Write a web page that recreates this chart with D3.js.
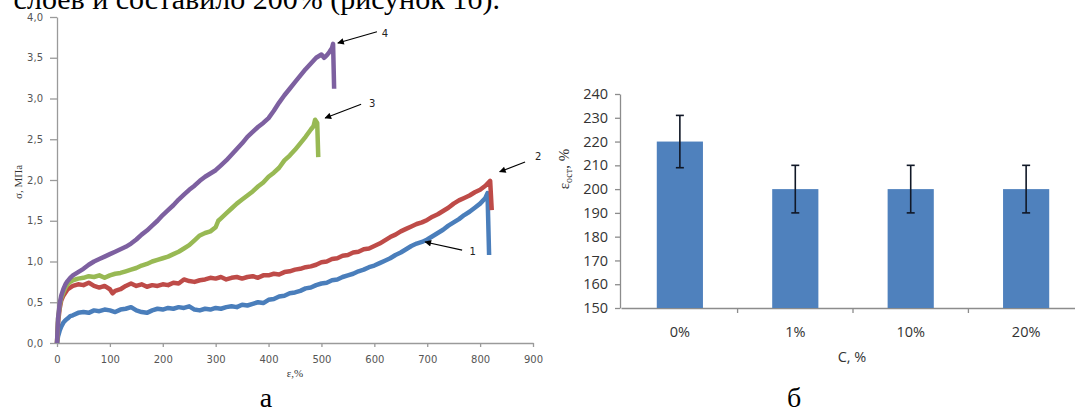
<!DOCTYPE html>
<html><head><meta charset="utf-8">
<script src="https://cdn.jsdelivr.net/npm/d3@7"></script>
<style>
html,body{margin:0;padding:0;background:#fff;}
svg{display:block;}
</style></head>
<body>
<svg id="c" width="1075" height="412"></svg>
<script>
// ---------- DATA: left chart (stress-strain curves) ----------
const strainTicks = [0,100,200,300,400,500,600,700,800,900];
const stressTicks = [0,0.5,1,1.5,2,2.5,3,3.5,4];

const strain1 = [0,2,5,8,12,16,20,25,30,40,50,60,70,80,90,100,110,120,130,140,150,160,170,180,190,200,210,220,230,240,250,260,270,280,290,300,310,320,330,340,350,360,370,380,390,400,410,420,430,440,450,460,470,480,490,500,510,520,530,540,550,560,570,580,590,600,610,620,630,640,650,660,670,680,690,700,710,720,730,740,750,760,770,780,790,800,810,814,817];
const stress1 = [0,0.08,0.15,0.2,0.25,0.28,0.3,0.33,0.34,0.37,0.38,0.37,0.40,0.39,0.41,0.40,0.38,0.41,0.42,0.44,0.40,0.38,0.37,0.40,0.42,0.41,0.43,0.42,0.44,0.43,0.45,0.41,0.40,0.42,0.41,0.43,0.42,0.44,0.45,0.44,0.47,0.46,0.48,0.50,0.49,0.53,0.54,0.57,0.58,0.61,0.62,0.64,0.67,0.68,0.71,0.73,0.74,0.77,0.78,0.81,0.83,0.85,0.88,0.90,0.93,0.95,0.98,1.01,1.04,1.08,1.11,1.15,1.19,1.22,1.24,1.27,1.31,1.35,1.39,1.44,1.48,1.52,1.57,1.61,1.66,1.71,1.78,1.84,1.08];

const strain2 = [0,2,5,8,12,16,20,25,30,40,50,60,70,80,90,100,105,110,120,130,140,150,160,170,180,190,200,210,220,230,240,250,260,270,280,290,300,310,320,330,340,350,360,370,380,390,400,410,420,430,440,450,460,470,480,490,500,510,520,530,540,550,560,570,580,590,600,610,620,630,640,650,660,670,680,690,700,710,720,730,740,750,760,770,780,790,800,810,819,822];
const stress2 = [0,0.25,0.42,0.52,0.58,0.62,0.66,0.68,0.70,0.72,0.71,0.74,0.70,0.68,0.70,0.66,0.61,0.64,0.66,0.70,0.73,0.70,0.72,0.69,0.71,0.70,0.72,0.71,0.74,0.73,0.78,0.76,0.75,0.77,0.78,0.80,0.79,0.81,0.78,0.80,0.81,0.79,0.81,0.82,0.80,0.83,0.83,0.85,0.84,0.87,0.88,0.90,0.91,0.93,0.94,0.96,0.99,1.00,1.03,1.04,1.07,1.08,1.11,1.12,1.15,1.16,1.19,1.22,1.26,1.30,1.33,1.37,1.40,1.43,1.46,1.48,1.51,1.55,1.58,1.62,1.66,1.71,1.75,1.78,1.81,1.85,1.88,1.93,1.99,1.63];

const strain3 = [0,2,5,8,12,16,20,25,30,40,50,60,70,80,90,100,110,120,130,140,150,160,170,180,190,200,210,220,230,240,250,260,270,280,290,300,305,310,320,330,340,350,360,370,380,390,400,410,420,430,440,450,460,470,480,485,488,492,494];
const stress3 = [0,0.3,0.45,0.55,0.62,0.68,0.72,0.75,0.77,0.79,0.80,0.82,0.81,0.83,0.80,0.83,0.85,0.86,0.88,0.90,0.92,0.95,0.97,1.00,1.02,1.04,1.06,1.09,1.12,1.16,1.20,1.26,1.32,1.35,1.37,1.42,1.50,1.53,1.59,1.65,1.71,1.76,1.81,1.86,1.92,1.97,2.04,2.09,2.15,2.24,2.30,2.37,2.45,2.53,2.62,2.66,2.74,2.70,2.28];

const strain4 = [0,2,5,8,12,16,20,25,30,40,50,60,70,80,90,100,110,120,130,140,150,160,170,180,190,200,210,220,230,240,250,260,270,280,290,300,310,320,330,340,350,360,370,380,390,400,410,420,430,440,450,460,470,480,490,500,505,510,515,520,522,524];
const stress4 = [0,0.3,0.48,0.58,0.66,0.72,0.76,0.80,0.83,0.87,0.91,0.96,1.00,1.03,1.06,1.09,1.12,1.15,1.18,1.22,1.27,1.33,1.38,1.44,1.50,1.57,1.63,1.69,1.76,1.82,1.88,1.93,1.99,2.04,2.08,2.12,2.18,2.24,2.31,2.38,2.45,2.53,2.59,2.65,2.70,2.76,2.85,2.95,3.04,3.12,3.20,3.28,3.36,3.43,3.50,3.54,3.50,3.53,3.57,3.62,3.67,3.12];

const curveLabels = ["1","2","3","4"];
// annotation arrows in data units: [labelStrain, labelStress, fromStrain, fromStress, toStrain, toStress]
const arrow1 = [780, 1.12, 766, 1.14, 696, 1.24];
const arrow2 = [904, 2.29, 885, 2.22, 837, 2.10];
const arrow3 = [590, 2.94, 575, 2.93, 507, 2.76];
const arrow4 = [614, 3.80, 605, 3.82, 531, 3.68];

// ---------- DATA: right chart (bars) ----------
const concCategories = ["0%","1%","10%","20%"];
const residualStrain = [220,200,200,200];
const residualError  = [11,10,10,10];
const residualTicks  = [150,160,170,180,190,200,210,220,230,240];

// ---------- DRAW ----------
const svg = d3.select("#c");

// cropped document text line at top
svg.append("text")
  .attr("x", 500).attr("y", 9)
  .attr("text-anchor","end")
  .attr("font-family","Liberation Serif, Times New Roman, serif")
  .attr("font-size", 30)
  .attr("fill","#000")
  .text("слоев и составило 200% (рисунок 1б).");

// ----- left chart -----
const x = d3.scaleLinear().domain([0,900]).range([57,533]);
const y = d3.scaleLinear().domain([0,4]).range([343,17]);
const L = svg.append("g");

const yAx = L.append("g").attr("transform","translate(57,0)")
  .call(d3.axisLeft(y).tickValues(stressTicks).tickSize(7).tickSizeOuter(0).tickPadding(7)
    .tickFormat(d => d.toFixed(1).replace(".",",")));
const xAx = L.append("g").attr("transform","translate(0,343)")
  .call(d3.axisBottom(x).tickValues(strainTicks).tickSize(4).tickSizeOuter(0).tickPadding(9));
[yAx,xAx].forEach(a=>{
  a.selectAll("path,line").attr("stroke","#9a9a9a").attr("stroke-width",1.3);
  a.selectAll("text").attr("font-family","DejaVu Sans, Verdana, sans-serif").attr("font-size",10).attr("fill","#555");
});

const series = [
  {sx:strain1, sy:stress1, color:"#4a7ebb"},
  {sx:strain2, sy:stress2, color:"#be4b48"},
  {sx:strain3, sy:stress3, color:"#98b954"},
  {sx:strain4, sy:stress4, color:"#7d60a0"}
];
const line = d3.line().x(d=>x(d[0])).y(d=>y(d[1]));
series.forEach(s=>{
  L.append("path")
    .datum(s.sx.map((v,i)=>[v,s.sy[i]]))
    .attr("d", line)
    .attr("fill","none")
    .attr("stroke", s.color)
    .attr("stroke-width", 4.5)
    .attr("stroke-linejoin","round");
});

svg.append("defs").append("marker")
  .attr("id","ah").attr("viewBox","0 0 10 10").attr("refX",9).attr("refY",5)
  .attr("markerWidth",7).attr("markerHeight",6).attr("orient","auto")
  .append("path").attr("d","M0,0L10,5L0,10z").attr("fill","#000");

[arrow1,arrow2,arrow3,arrow4].forEach((a,i)=>{
  L.append("line")
    .attr("x1",x(a[2])).attr("y1",y(a[3]))
    .attr("x2",x(a[4])).attr("y2",y(a[5]))
    .attr("stroke","#000").attr("stroke-width",1.1)
    .attr("marker-end","url(#ah)");
  L.append("text")
    .attr("x",x(a[0])).attr("y",y(a[1]))
    .attr("dy","0.35em")
    .attr("font-family","DejaVu Sans, Verdana, sans-serif").attr("font-size",10)
    .attr("fill","#222")
    .text(curveLabels[i]);
});

// axis titles left
L.append("text")
  .attr("transform","translate(22,182) rotate(-90)")
  .attr("text-anchor","middle")
  .attr("font-family","Liberation Serif, Times New Roman, serif")
  .attr("font-size",11).attr("fill","#333")
  .text("σ, МПа");
L.append("text")
  .attr("x",295).attr("y",377)
  .attr("text-anchor","middle")
  .attr("font-family","Liberation Serif, Times New Roman, serif")
  .attr("font-size",11).attr("fill","#333")
  .text("ε,%");

// panel letters
svg.append("text").attr("x",266).attr("y",407).attr("text-anchor","middle")
  .attr("font-family","Liberation Serif, Times New Roman, serif").attr("font-size",28).text("а");
svg.append("text").attr("x",794).attr("y",407).attr("text-anchor","middle")
  .attr("font-family","Liberation Serif, Times New Roman, serif").attr("font-size",28).text("б");

// ----- right chart -----
const R = svg.append("g");
const xb = d3.scaleBand().domain(concCategories).range([621,1085]).paddingInner(0.6).paddingOuter(0.31);
const yb = d3.scaleLinear().domain([150,240]).range([308,94]);

const ybAx = R.append("g").attr("transform","translate(620,0)")
  .call(d3.axisLeft(yb).tickValues(residualTicks).tickSize(5).tickSizeOuter(0).tickPadding(7));
const xbAx = R.append("g").attr("transform","translate(0,308)")
  .call(d3.axisBottom(xb).tickSize(0).tickSizeOuter(0).tickPadding(19));
[ybAx,xbAx].forEach(a=>{
  a.selectAll("path,line").attr("stroke","#8c8c8c").attr("stroke-width",1.3);
  a.selectAll("text").attr("font-family","Open Sans, Liberation Sans, sans-serif").attr("font-size",14.5).attr("fill","#333");
});
// category boundary ticks
const gap = xb.step()*xb.paddingInner();
R.append("g").selectAll("line").data(concCategories.slice(1)).join("line")
  .attr("x1", d=>xb(d)-gap/2).attr("x2", d=>xb(d)-gap/2)
  .attr("y1",308).attr("y2",313)
  .attr("stroke","#8c8c8c").attr("stroke-width",1.3);

R.append("g").selectAll("rect").data(concCategories).join("rect")
  .attr("x", d=>xb(d)).attr("width", xb.bandwidth())
  .attr("y", (d,i)=>yb(residualStrain[i]))
  .attr("height", (d,i)=>yb(150)-yb(residualStrain[i]))
  .attr("fill","#4f81bd");

const eb = R.append("g").attr("stroke","#111827").attr("stroke-width",1.6);
concCategories.forEach((c,i)=>{
  const cx = xb(c)+xb.bandwidth()/2;
  const top = yb(residualStrain[i]+residualError[i]);
  const bot = yb(residualStrain[i]-residualError[i]);
  eb.append("line").attr("x1",cx).attr("x2",cx).attr("y1",top).attr("y2",bot);
  eb.append("line").attr("x1",cx-4).attr("x2",cx+4).attr("y1",top).attr("y2",top);
  eb.append("line").attr("x1",cx-4).attr("x2",cx+4).attr("y1",bot).attr("y2",bot);
});

// titles right
const yt = R.append("text")
  .attr("transform","translate(569,169) rotate(-90)")
  .attr("text-anchor","middle")
  .attr("font-family","Liberation Serif, Times New Roman, serif")
  .attr("font-size",15).attr("fill","#333");
yt.append("tspan").text("ε");
yt.append("tspan").attr("font-size",10).attr("dy",3).text("ост");
yt.append("tspan").attr("dy",-3).text(", %");

R.append("text").attr("x",852).attr("y",362).attr("text-anchor","middle")
  .attr("font-family","Open Sans, Liberation Sans, sans-serif").attr("font-size",14.5).attr("fill","#333")
  .text("C, %");
</script>
</body></html>
